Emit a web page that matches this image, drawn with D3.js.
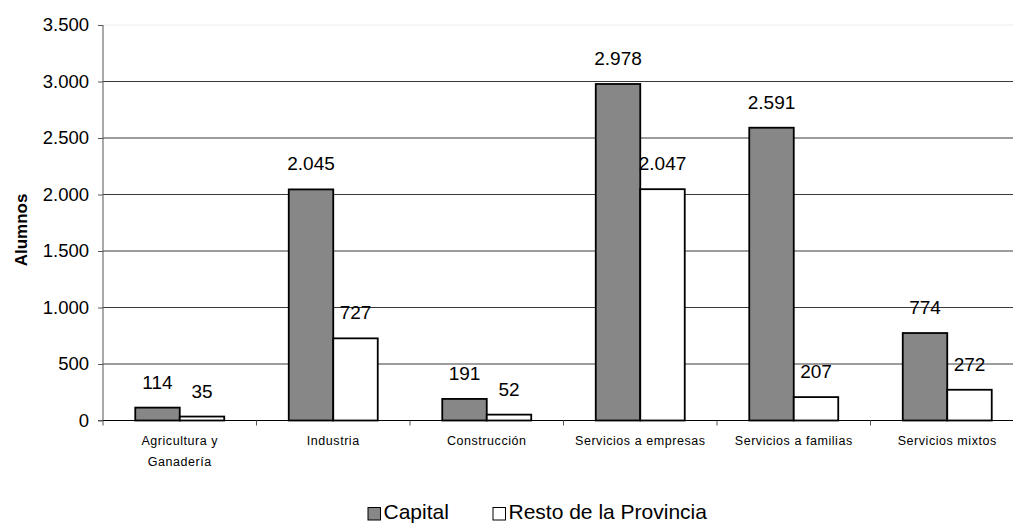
<!DOCTYPE html>
<html>
<head>
<meta charset="utf-8">
<script src="https://cdn.jsdelivr.net/npm/d3@7"></script>
<style>
  body { margin: 0; background: #fff; }
  text { font-family: "Liberation Sans", Arial, sans-serif; fill: #000; }
</style>
</head>
<body>
<div id="chart-container"></div>
<script>
// data
let categories = [["Agricultura y", "Ganadería"], ["Industria"], ["Construcción"],
                  ["Servicios a empresas"], ["Servicios a familias"], ["Servicios mixtos"]],
    seriesNames = ["Capital", "Resto de la Provincia"],
    capital = [114, 2045, 191, 2978, 2591, 774],
    resto = [35, 727, 52, 2047, 207, 272],
    yTicks = [0, 500, 1000, 1500, 2000, 2500, 3000, 3500];

let width = 1013, height = 523,
    margin = { top: 25, left: 103, bottom: 102.5 },
    colors = { "Capital": "#878787", "Resto de la Provincia": "#ffffff" },
    fmt = d3.formatLocale({ decimal: ",", thousands: ".", grouping: [3], currency: ["", ""] }).format(",d");

let svg = d3.select("#chart-container").append("svg").attr("width", width).attr("height", height);

let x0 = d3.scaleBand().domain(d3.range(categories.length)).range([margin.left, margin.left + 6 * 153.5]),
    x1 = d3.scaleBand().domain(seriesNames).range([0, x0.bandwidth()]).paddingOuter(0.725),
    y = d3.scaleLinear().domain([0, 3500]).range([height - margin.bottom, margin.top]);

let rows = categories.map((c, i) => ({ i: i, values: [
    { key: "Capital", value: capital[i] },
    { key: "Resto de la Provincia", value: resto[i] }] }));

// gridlines
svg.append("g")
    .selectAll("line")
    .data(yTicks.slice(1))
    .join("line")
    .attr("x1", margin.left).attr("x2", x0.range()[1])
    .attr("y1", d => y(d)).attr("y2", d => y(d))
    .attr("stroke", d => d === 3500 ? "#ececec" : "#3a3a3a")
    .attr("stroke-width", 1);

// y axis
let yAxis = svg.append("g")
    .attr("transform", `translate(${margin.left},0)`)
    .call(d3.axisLeft(y).tickValues(yTicks).tickSize(5).tickPadding(9).tickFormat(fmt));
yAxis.select(".domain").attr("stroke", "#555").attr("d", `M-5,${y(0)}H0V${y(3500)}`);
yAxis.selectAll(".tick line").attr("stroke", "#555");
yAxis.selectAll("text").attr("font-size", 18.5).attr("font-family", "Liberation Sans, Arial, sans-serif");

svg.append("text")
    .attr("transform", `translate(27,230) rotate(-90)`)
    .attr("text-anchor", "middle")
    .attr("font-size", 17)
    .attr("font-weight", "bold")
    .text("Alumnos");

// bars
let groups = svg.append("g")
    .selectAll("g")
    .data(rows)
    .join("g")
    .attr("transform", d => `translate(${x0(d.i)},0)`);

groups.selectAll("rect")
    .data(d => d.values)
    .join("rect")
    .attr("x", d => x1(d.key))
    .attr("y", d => y(d.value))
    .attr("width", x1.bandwidth())
    .attr("height", d => y(0) - y(d.value))
    .attr("fill", d => colors[d.key])
    .attr("stroke", "#000")
    .attr("stroke-width", 1.8);

groups.selectAll("text.val")
    .data(d => d.values)
    .join("text")
    .attr("class", "val")
    .attr("x", d => x1(d.key) + x1.bandwidth() / 2)
    .attr("y", d => y(d.value) - 19)
    .attr("text-anchor", "middle")
    .attr("font-size", 19)
    .text(d => fmt(d.value));

// x axis
let xAxis = svg.append("g");
xAxis.append("line")
    .attr("x1", margin.left).attr("x2", x0.range()[1])
    .attr("y1", y(0)).attr("y2", y(0))
    .attr("stroke", "#000");
xAxis.selectAll("line.tick")
    .data(d3.range(categories.length + 1))
    .join("line")
    .attr("class", "tick")
    .attr("x1", d => margin.left + d * x0.step()).attr("x2", d => margin.left + d * x0.step())
    .attr("y1", y(0)).attr("y2", y(0) + 5)
    .attr("stroke", "#555");

xAxis.selectAll("text")
    .data(categories)
    .join("text")
    .attr("text-anchor", "middle")
    .attr("font-size", 12.5)
    .attr("letter-spacing", 0.55)
    .each(function (lines, i) {
        d3.select(this).selectAll("tspan")
            .data(lines)
            .join("tspan")
            .attr("x", x0(i) + x0.bandwidth() / 2)
            .attr("y", (d, j) => 444.5 + j * 21)
            .text(d => d);
    });

// legend
let legendX = [368, 493];
let legend = svg.append("g")
    .selectAll("g")
    .data(seriesNames)
    .join("g")
    .attr("transform", (d, i) => `translate(${legendX[i]},0)`);

legend.append("rect")
    .attr("x", 0).attr("y", 507.5)
    .attr("width", 12.5).attr("height", 12.5)
    .attr("fill", d => colors[d])
    .attr("stroke", "#000")
    .attr("stroke-width", 1);

legend.append("text")
    .attr("x", 15.5).attr("y", 519)
    .attr("font-size", 21)
    .text(d => d);
</script>
</body>
</html>
